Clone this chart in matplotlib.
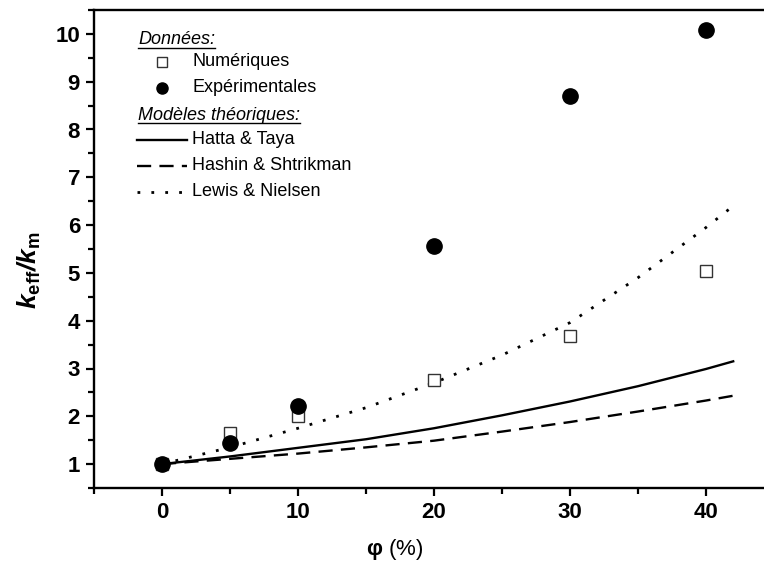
import matplotlib
matplotlib.use('Agg')
from matplotlib import pyplot as plt
from matplotlib.lines import Line2D
import numpy as np

plt.rcParams['font.family'] = ['Liberation Sans', 'DejaVu Sans']
plt.rcParams['mathtext.fontset'] = 'custom'
plt.rcParams['mathtext.rm'] = 'Liberation Sans'
plt.rcParams['mathtext.it'] = 'Liberation Sans:italic'
plt.rcParams['mathtext.bf'] = 'Liberation Sans:bold'
plt.rcParams['mathtext.bfit'] = 'Liberation Sans:bold:italic'

# data
phi_pts = [0, 5, 10, 20, 30, 40]
k_num = [1.0, 1.65, 2.0, 2.75, 3.68, 5.03]
k_exp = [1.0, 1.45, 2.22, 5.57, 8.70, 10.08]

phi_mod = [0, 5, 10, 15, 20, 25, 30, 35, 40, 42]
hatta_taya = [1.0, 1.16, 1.34, 1.52, 1.75, 2.02, 2.31, 2.63, 2.99, 3.15]
hashin_sh = [1.0, 1.11, 1.22, 1.35, 1.49, 1.68, 1.88, 2.10, 2.33, 2.43]
lewis_niel = [1.0, 1.35, 1.75, 2.18, 2.70, 3.28, 3.96, 4.90, 5.95, 6.40]

W, H = 764, 566
fig = plt.figure(figsize=(W / 100, H / 100), dpi=100)
ax = fig.add_axes([94 / W, 1 - 488 / H, (774 - 94) / W, (488 - 10) / H])

dots = (0, (1, 4))
dash = (0, (6, 3.5))

ax.plot(phi_mod, hatta_taya, 'k-', lw=1.7)
ax.plot(phi_mod, hashin_sh, color='k', lw=1.7, ls=dash)
ax.plot(phi_mod, lewis_niel, color='k', lw=2.0, ls=dots)
ax.plot(phi_pts, k_num, 's', ms=9, mfc='white', mec='#333333', mew=1.0)
ax.plot(phi_pts, k_exp, 'o', ms=11, color='k')

ax.set_xlim(-5, 45)
ax.set_ylim(0.5, 10.5)
ax.set_xticks([0, 10, 20, 30, 40])
ax.set_xticks([-5, 5, 15, 25, 35, 45], minor=True)
ax.set_yticks(range(1, 11))
ax.set_yticks(np.arange(0.5, 10.6, 1.0), minor=True)
for s in ax.spines.values():
    s.set_linewidth(1.7)
ax.tick_params(which='major', direction='out', length=6, width=1.6, labelsize=16, pad=4)
ax.tick_params(which='minor', direction='out', length=4, width=1.6)
for lab in ax.get_xticklabels() + ax.get_yticklabels():
    lab.set_fontweight('bold')

fig.text(29 / W, 1 - 270 / H, r'$\mathbfit{k}_{\mathbf{eff}}\mathbfit{/k}_{\mathbf{m}}$',
         rotation=90, fontsize=19, ha='center', va='center')
fig.text(395 / W, 1 - 549 / H, r'$\mathbf{φ}$ (%)', fontsize=16, ha='center', va='center')

# hand-made legend
def px(x, y):
    return x / W, 1 - y / H

heads = []
heads.append(fig.text(*px(138, 40), 'Données:', fontsize=13, style='italic', va='center'))
heads.append(fig.text(*px(138, 115), 'Modèles théoriques:', fontsize=13, style='italic', va='center'))

fig.add_artist(Line2D([162 / W], [1 - 62 / H], marker='s', ms=7, mfc='white', mec='#333333', mew=1.0))
fig.add_artist(Line2D([162 / W], [1 - 88 / H], marker='o', ms=8, color='k'))
fig.add_artist(Line2D([137 / W, 187 / W], [1 - 140 / H] * 2, color='k', lw=1.7))
fig.add_artist(Line2D([137 / W, 187 / W], [1 - 166 / H] * 2, color='k', lw=1.7, ls=dash))
fig.add_artist(Line2D([137 / W, 187 / W], [1 - 192 / H] * 2, color='k', lw=2.0, ls=dots))

entries = ['Numériques', 'Expérimentales', 'Hatta & Taya', 'Hashin & Shtrikman', 'Lewis & Nielsen']
ys = [62, 88, 140, 166, 192]
for txt, yy in zip(entries, ys):
    fig.text(*px(192, yy), txt, fontsize=13, va='center')

fig.canvas.draw()
r = fig.canvas.get_renderer()
for t in heads:
    bb = t.get_window_extent(r)
    fig.add_artist(Line2D([bb.x0 / W, bb.x1 / W], [(bb.y0 + 1) / H] * 2, color='k', lw=1.0))

fig.savefig('out.png', dpi=100)
